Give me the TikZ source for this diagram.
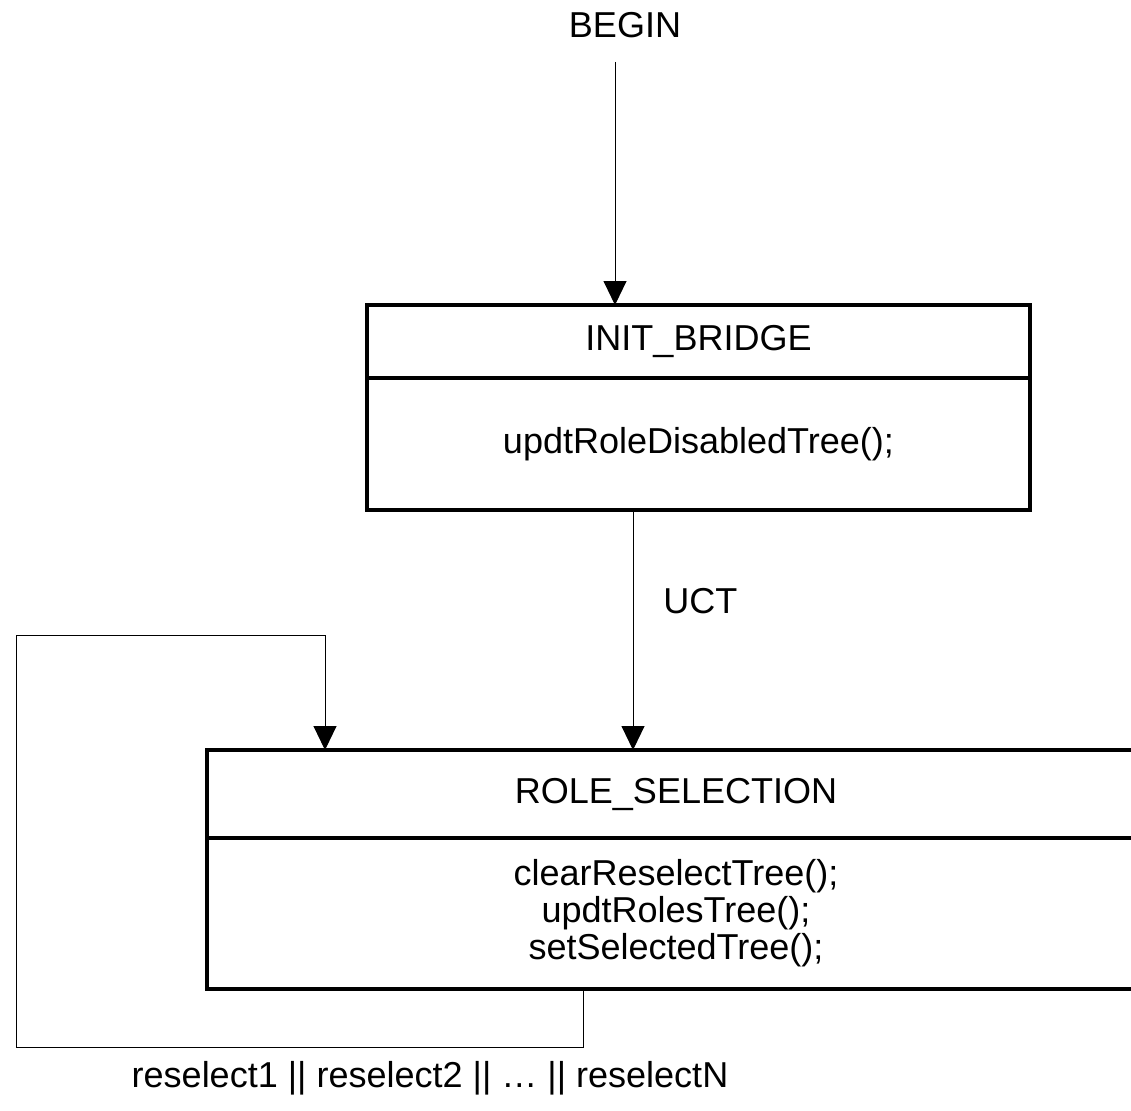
\documentclass[tikz,border=0pt]{standalone}
\usepackage{fontspec}
\setmainfont{Liberation Sans}
\usetikzlibrary{positioning,arrows.meta}
\tikzstyle{StateBox}=[rectangle, draw=black, line width=1.9pt, inner sep=0pt, outer sep=0pt, align=center, font=\fontsize{20.5}{21}\selectfont]
\tikzstyle{Flow}=[-{Triangle[width=0.46cm,length=0.48cm]}, line width=0.55pt]
\tikzstyle{Caption}=[font=\fontsize{20.5}{21}\selectfont]

\begin{document}
\begin{tikzpicture}[x=0.02cm, y=-0.02cm, node distance=0cm]
  \useasboundingbox (0,0) rectangle (1131,1110);
  \clip (0,0) rectangle (1131,1110);
  \node[Caption] (begin) at (625,25) {BEGIN};
  \node[StateBox, minimum width=13.26cm, minimum height=1.46cm] (initHead) at (698.5,341.5) {INIT\_BRIDGE};
  \node[StateBox, minimum width=13.26cm, minimum height=2.64cm, below=of initHead] (initBody) {updtRoleDisabledTree();};
  \node[StateBox, minimum width=18.76cm, minimum height=1.76cm] (roleHead) at (676,794) {ROLE\_SELECTION};
  \node[StateBox, minimum width=18.76cm, minimum height=3.02cm, below=of roleHead] (roleBody) {clearReselectTree();\\updtRolesTree();\\setSelectedTree();};
  \node[Caption] (reselect) at (430,1078) {reselect1 || reselect2 || … || reselectN};
  \coordinate (initIn) at (615,305);
  \coordinate (roleIn) at (633,750);
  \coordinate (loopIn) at (325,750);
  \coordinate (loopOut) at (583,989);
  \draw[Flow] (begin.south -| initIn) ++(0,18) -- (initIn);
  \draw[Flow] (initBody.south -| roleIn) -- node[Caption, pos=0.38, right=0.48cm] (uct) {UCT} (roleIn);
  \draw[Flow] (roleBody.south -| loopOut) -- ++(0,58) -| (16,635) -| (loopIn);
\end{tikzpicture}
\end{document}
